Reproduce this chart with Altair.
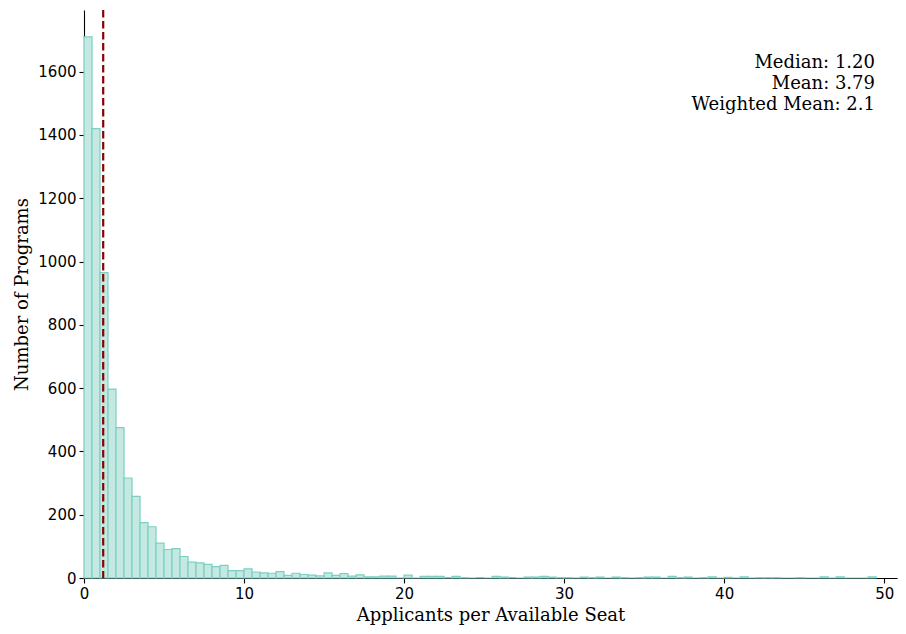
import altair as alt
import pandas as pd

# Histogram counts, bins of width 0.5 starting at 0
counts = [
    1710, 1420, 965, 597, 475, 316, 258, 175, 162, 110,
    90, 93, 68, 50, 48, 43, 36, 40, 23, 23,
    29, 19, 16, 15, 20, 8, 15, 11, 9, 7,
    16, 8, 14, 6, 10, 4, 4, 6, 6, 0,
    9, 0, 5, 5, 5, 1, 5, 1, 0, 1,
    0, 5, 3, 1, 0, 3, 3, 5, 3, 1,
    1, 0, 3, 1, 3, 0, 3, 1, 0, 1,
    3, 3, 0, 5, 1, 3, 0, 1, 4, 0,
    2, 0, 4, 0, 1, 1, 1, 0, 0, 1,
    0, 0, 4, 0, 4, 0, 0, 0, 4,
]
bin_width = 0.5
bin_start = [i * bin_width for i in range(len(counts))]
bin_end = [s + bin_width for s in bin_start]
baseline = [0] * len(counts)

median_value = 1.20
stats_lines = ["Median: 1.20", "Mean: 3.79", "Weighted Mean: 2.1"]

x_ticks = [0, 10, 20, 30, 40, 50]
y_ticks = [0, 200, 400, 600, 800, 1000, 1200, 1400, 1600]

hist = pd.DataFrame({"start": bin_start, "end": bin_end, "count": counts, "base": baseline})
med = pd.DataFrame({"median": [median_value]})

x_scale = alt.Scale(domain=[0, 50.8], nice=False, zero=False)
y_scale = alt.Scale(domain=[0, 1795], nice=False)

bars = alt.Chart(hist).mark_rect(
    fill="#c4e9e3", stroke="#7dcfc1", strokeWidth=1.2
).encode(
    x=alt.X("start:Q", scale=x_scale,
            axis=alt.Axis(values=x_ticks, title="Applicants per Available Seat", format="d")),
    x2="end:Q",
    y=alt.Y("count:Q", scale=y_scale,
            axis=alt.Axis(values=y_ticks, title="Number of Programs", format="d")),
    y2="base:Q",
)

rule = alt.Chart(med).mark_rule(
    color="#8b0000", strokeWidth=2.2, strokeDash=[7.6, 3.4]
).encode(x=alt.X("median:Q", scale=x_scale))

text = alt.Chart(med).mark_text(
    text=stats_lines, align="right", baseline="alphabetic",
    font="DejaVu Serif", fontSize=18, lineHeight=20.8, color="black"
).encode(x=alt.value(791), y=alt.value(58))

chart = alt.layer(bars, rule, text).properties(
    width=813, height=568,
    autosize=alt.AutoSizeParams(type="none"),
    padding={"left": 76, "top": 2, "right": 1, "bottom": 48},
).configure_view(strokeOpacity=0).configure_axis(
    grid=False, labelFlush=False,
    domainColor="black", domainWidth=1.1,
    tickColor="black", tickSize=5, tickWidth=1.1,
    labelFont="DejaVu Sans", labelFontSize=15, labelColor="black", labelPadding=3,
    titleFont="DejaVu Serif", titleFontSize=18, titleFontWeight="normal", titleColor="black",
).configure_axisX(titlePadding=5).configure_axisY(titlePadding=6)

chart.save("out.html", embed_options={"renderer": "svg", "actions": False})
